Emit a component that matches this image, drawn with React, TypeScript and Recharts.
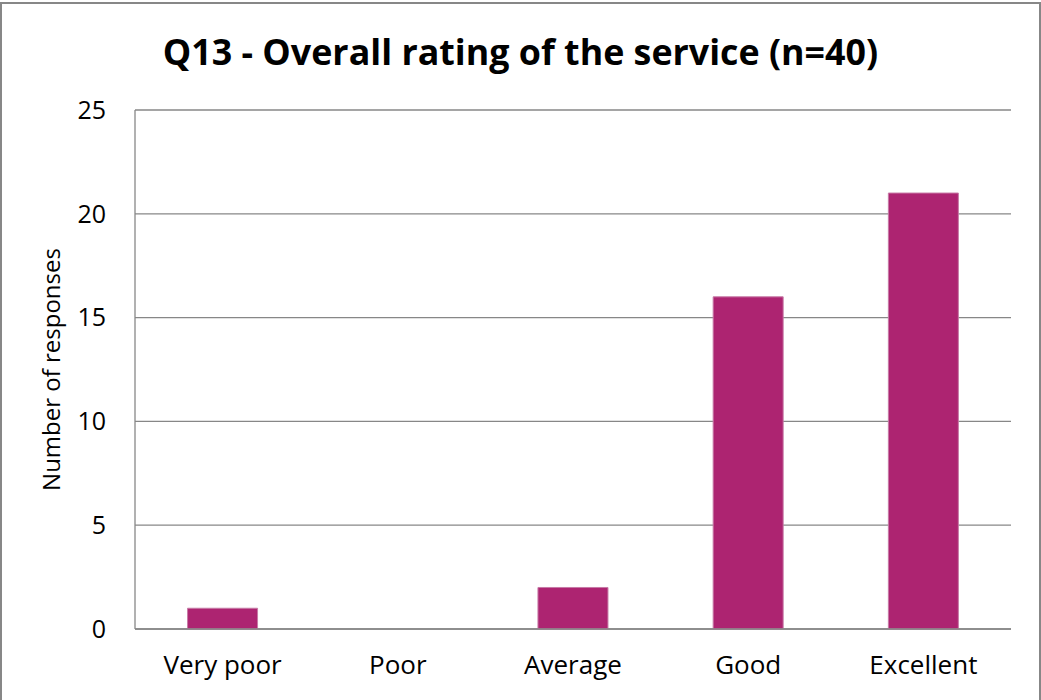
import { BarChart, Bar, XAxis, YAxis, CartesianGrid } from "recharts";

const ratings = ["Very poor", "Poor", "Average", "Good", "Excellent"];
const responses = [1, 0, 2, 16, 21];
const yTicks = [0, 5, 10, 15, 20, 25];

const data = ratings.map((name, i) => ({ name, responses: responses[i] }));

const font = "'Open Sans', sans-serif";

export default function App() {
  return (
    <div style={{ position: "absolute", left: 0, top: 0, width: 1041, height: 700, background: "#fff", overflow: "hidden", fontFamily: font }}>
      <div style={{ position: "absolute", left: 0, top: 2, width: 1037, height: 720, border: "2px solid #878787" }} />
      <div style={{ position: "absolute", left: 0, top: 27, width: 1041, textAlign: "center", fontSize: 35.8, fontWeight: 700, color: "#000" }}>
        Q13 - Overall rating of the service (n=40)
      </div>
      <div style={{ position: "absolute", left: 0, top: 0 }}>
        <BarChart width={1041} height={700} data={data}
          margin={{ top: 110, right: 30, left: 30, bottom: 41 }}
          barCategoryGap="30%">
          <CartesianGrid vertical={false} stroke="#878787" strokeWidth={1.3} />
          <XAxis dataKey="name" height={30} axisLine={{ stroke: "#878787", strokeWidth: 1.3 }} tickLine={false} tickMargin={21}
            tick={{ fill: "#000", fontSize: 26, fontFamily: font }} interval={0} />
          <YAxis domain={[0, 25]} ticks={yTicks} width={105} axisLine={{ stroke: "#878787", strokeWidth: 1.3 }} tickLine={false} tickMargin={23}
            tick={{ fill: "#000", fontSize: 25, fontFamily: font }}
            label={{ value: "Number of responses", angle: -90, position: "insideLeft", offset: 21, style: { fill: "#000", fontSize: 24, fontFamily: font, textAnchor: "middle" } }} />
          <Bar dataKey="responses" fill="#AD2471" stroke="#c77aa6" strokeWidth={1} isAnimationActive={false} />
        </BarChart>
      </div>
    </div>
  );
}
